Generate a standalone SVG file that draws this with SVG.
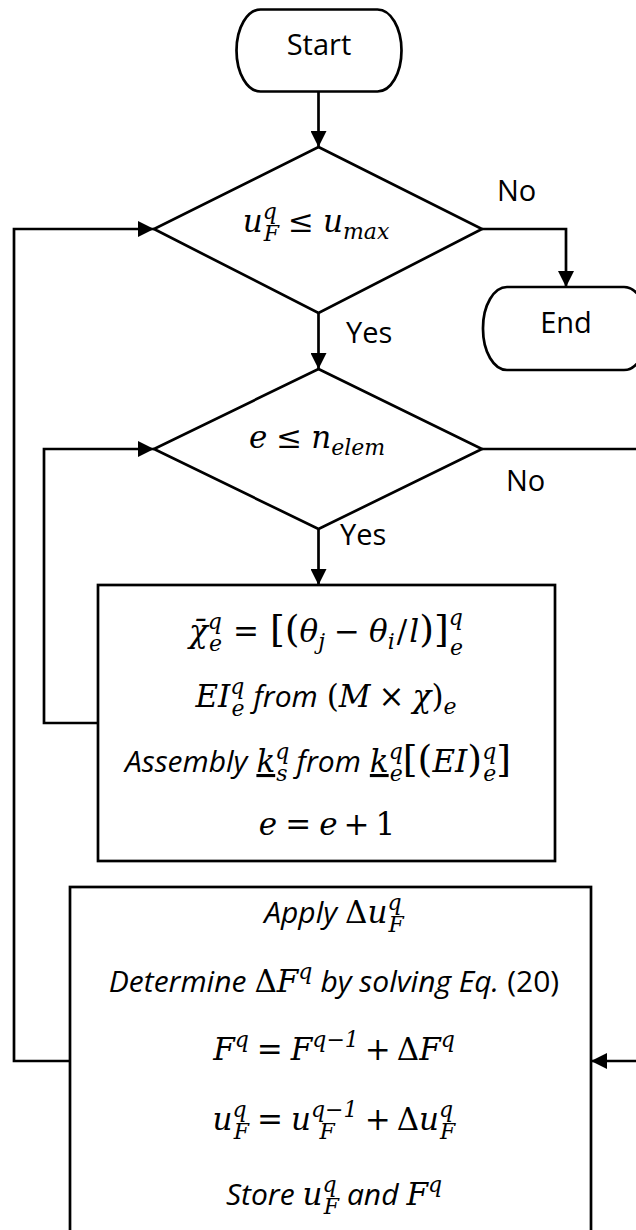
<svg xmlns="http://www.w3.org/2000/svg" width="636" height="1230" viewBox="0 0 636 1230">
<style>
.ln{fill:none;stroke:#000;stroke-width:2.7}
.sh{fill:#fff;stroke:#000;stroke-width:2.7}
.t{font-family:"Open Sans","Liberation Sans",sans-serif;font-size:29px;font-style:normal;fill:#000}
.ti{font-family:"Open Sans","Liberation Sans",sans-serif;font-style:italic;font-size:30px}
.m{font-family:"DejaVu Serif","Liberation Serif",serif;font-style:italic;font-size:31px;fill:#000}
.r{font-style:normal}
.s{font-size:22px}
.b{font-size:38px;font-style:normal}
.u{text-decoration:underline}
</style>
<defs>
<marker id="ah" markerUnits="userSpaceOnUse" markerWidth="17" markerHeight="16" refX="16" refY="8" orient="auto">
<path d="M0,0 L16,8 L0,16 Z" fill="#000"/>
</marker>
</defs>
<rect width="636" height="1230" fill="#fff"/>
<g id="connectors">
<path class="ln" d="M318.5,92 V147" marker-end="url(#ah)"/>
<path class="ln" d="M482,229 H566 V287" marker-end="url(#ah)"/>
<path class="ln" d="M318.5,313 V369" marker-end="url(#ah)"/>
<path class="ln" d="M482,449 H645 V1061 H591" marker-end="url(#ah)"/>
<path class="ln" d="M318.5,529 V585" marker-end="url(#ah)"/>
<path class="ln" d="M98,723 H44 V449 H154" marker-end="url(#ah)"/>
<path class="ln" d="M70,1061 H14 V229 H154" marker-end="url(#ah)"/>
<text class="t" x="497" y="201">No</text>
<text class="t" x="346" y="343">Yes</text>
<text class="t" x="506" y="491">No</text>
<text class="t" x="340" y="545">Yes</text>
</g>
<g id="start">
<rect class="sh" x="236.5" y="9.5" width="165" height="82" rx="24" ry="41"/>
<text class="t" x="319" y="55" text-anchor="middle">Start</text>
</g>
<g id="cond1">
<path class="sh" d="M318.5,147 L482,229 L318.5,313 L154,229 Z"/>
<text class="m" x="316" y="232" text-anchor="middle">u<tspan class="s" dy="-13">q</tspan><tspan class="s" dx="-13" dy="22">F</tspan><tspan class="r" dx="9" dy="-9">≤</tspan><tspan dx="9">u</tspan><tspan class="s" dy="7">max</tspan></text>
</g>
<g id="end">
<rect class="sh" x="483" y="287" width="165" height="83" rx="24" ry="41"/>
<text class="t" x="566" y="333" text-anchor="middle">End</text>
</g>
<g id="cond2">
<path class="sh" d="M318.5,369 L482,449 L318.5,529 L154,449 Z"/>
<text class="m" x="317" y="448" text-anchor="middle">e<tspan class="r" dx="9">≤</tspan><tspan dx="9">n</tspan><tspan class="s" dy="7">elem</tspan></text>
</g>
<g id="element-loop">
<rect class="sh" x="98" y="585" width="457" height="276"/>
<text class="m" x="326" y="642" text-anchor="middle">χ̄<tspan class="s" dy="-13">q</tspan><tspan class="s" dx="-13" dy="22">e</tspan><tspan class="r" dx="11" dy="-9">=</tspan><tspan class="b" dx="11">[(</tspan>θ<tspan class="s" dy="7">j</tspan><tspan class="r" dx="9" dy="-7">−</tspan><tspan dx="9">θ</tspan><tspan class="s" dy="7">i</tspan><tspan class="r" dx="2" dy="-7">/</tspan><tspan dx="2">l</tspan><tspan class="b">)]</tspan><tspan class="s" dy="-17">q</tspan><tspan class="s" dx="-13" dy="30">e</tspan></text>
<text class="m" x="326" y="707" text-anchor="middle">EI<tspan class="s" dy="-13">q</tspan><tspan class="s" dx="-13" dy="22">e</tspan><tspan class="ti" dx="9" dy="-9">from</tspan><tspan class="r" dx="9">(</tspan>M<tspan class="r" dx="8">×</tspan><tspan dx="8">χ</tspan><tspan class="r">)</tspan><tspan class="s" dy="7">e</tspan></text>
<text class="m" x="318" y="772" text-anchor="middle"><tspan class="ti">Assembly</tspan><tspan class="u" dx="9">k</tspan><tspan class="s" dy="-13">q</tspan><tspan class="s" dx="-13" dy="22">s</tspan><tspan class="ti" dx="9" dy="-9">from</tspan><tspan class="u" dx="9">k</tspan><tspan class="s" dy="-13">q</tspan><tspan class="s" dx="-13" dy="22">e</tspan><tspan class="b" dy="-9">[(</tspan>EI<tspan class="b">)</tspan><tspan class="s" dy="-13">q</tspan><tspan class="s" dx="-13" dy="22">e</tspan><tspan class="b" dy="-9">]</tspan></text>
<text class="m" x="327" y="835" text-anchor="middle">e<tspan class="r" dx="8">=</tspan><tspan dx="8">e</tspan><tspan class="r" dx="6">+</tspan><tspan class="r" dx="6">1</tspan></text>
</g>
<g id="load-step">
<rect class="sh" x="70" y="887" width="521" height="360"/>
<text class="m" x="334" y="923" text-anchor="middle"><tspan class="ti">Apply</tspan><tspan class="r" dx="8">Δ</tspan>u<tspan class="s" dy="-13">q</tspan><tspan class="s" dx="-13" dy="22">F</tspan></text>
<text class="m" x="334" y="992" text-anchor="middle"><tspan class="ti">Determine</tspan><tspan class="r" dx="8">Δ</tspan>F<tspan class="s" dy="-13">q</tspan><tspan class="ti" dx="8" dy="13">by solving Eq.</tspan><tspan class="t" dx="8" style="font-size:30px">(20)</tspan></text>
<text class="m" x="334" y="1060" text-anchor="middle">F<tspan class="s" dy="-13">q</tspan><tspan class="r" dx="8" dy="13">=</tspan><tspan dx="8">F</tspan><tspan class="s" dy="-13">q−1</tspan><tspan class="r" dx="6" dy="13">+</tspan><tspan class="r" dx="6">Δ</tspan>F<tspan class="s" dy="-13">q</tspan></text>
<text class="m" x="334" y="1130" text-anchor="middle">u<tspan class="s" dy="-13">q</tspan><tspan class="s" dx="-13" dy="22">F</tspan><tspan class="r" dx="8" dy="-9">=</tspan><tspan dx="8">u</tspan><tspan class="s" dy="-13">q−1</tspan><tspan class="s" dx="-38" dy="22">F</tspan><tspan class="r" dx="30" dy="-9">+</tspan><tspan class="r" dx="6">Δ</tspan>u<tspan class="s" dy="-13">q</tspan><tspan class="s" dx="-13" dy="22">F</tspan></text>
<text class="m" x="334" y="1205" text-anchor="middle"><tspan class="ti">Store</tspan><tspan dx="8">u</tspan><tspan class="s" dy="-13">q</tspan><tspan class="s" dx="-13" dy="22">F</tspan><tspan class="ti" dx="8" dy="-9">and</tspan><tspan dx="8">F</tspan><tspan class="s" dy="-13">q</tspan></text>
</g>
</svg>
